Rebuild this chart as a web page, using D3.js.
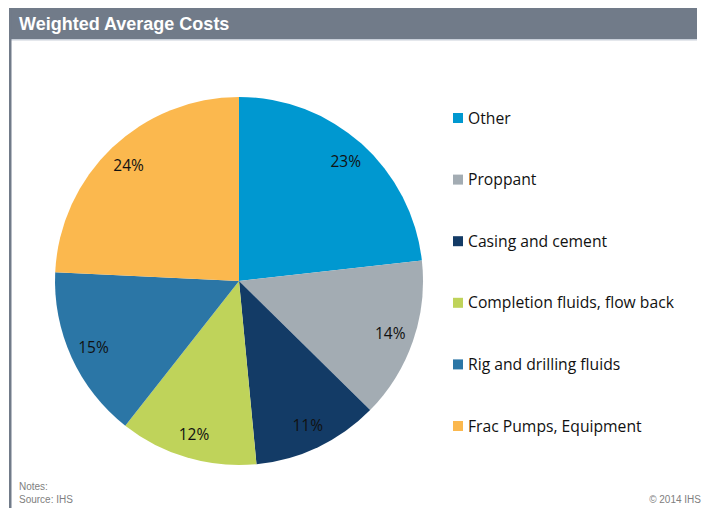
<!DOCTYPE html>
<html>
<head>
<meta charset="utf-8">
<script src="https://cdn.jsdelivr.net/npm/d3@7"></script>
<style>
  body { margin: 0; background: #fff; }
  svg { display: block; }
</style>
</head>
<body>
<svg id="chart"></svg>
<script>
const width = 704, height = 508;

// Data
const categories = ["Other", "Proppant", "Casing and cement", "Completion fluids, flow back", "Rig and drilling fluids", "Frac Pumps, Equipment"];
const shares = [23, 14, 11, 12, 15, 24];
const colors = ["#0098d0", "#a3acb3", "#133b66", "#bfd35a", "#2b76a6", "#fbb84e"];

const svg = d3.select("#chart")
    .attr("width", width)
    .attr("height", height);

// Frame: title bar and left border
svg.append("rect")
    .attr("x", 9).attr("y", 8)
    .attr("width", 688).attr("height", 31)
    .attr("fill", "#717b89");
svg.append("rect")
    .attr("x", 9).attr("y", 39)
    .attr("width", 688).attr("height", 1.5)
    .attr("fill", "#c9d0da");
svg.append("rect")
    .attr("x", 9).attr("y", 8)
    .attr("width", 2.5).attr("height", height - 8)
    .attr("fill", "#717b89");

svg.append("text")
    .attr("x", 19).attr("y", 29.5)
    .attr("font-family", "Liberation Sans, Arial, sans-serif")
    .attr("font-weight", "bold")
    .attr("font-size", 18)
    .attr("fill", "#fff")
    .text("Weighted Average Costs");

// Pie
const cx = 239, cy = 281, radius = 184;
const color = d3.scaleOrdinal().domain(categories).range(colors);

const pie = d3.pie().sort(null).value(d => d.value);
const arcs = pie(categories.map((c, i) => ({ key: c, value: shares[i] })));
const arc = d3.arc().innerRadius(0).outerRadius(radius);
const labelArc = d3.arc().innerRadius(160).outerRadius(160);

const g = svg.append("g").attr("transform", `translate(${cx},${cy})`);

g.selectAll("path")
    .data(arcs)
    .enter().append("path")
    .attr("d", arc)
    .attr("fill", d => color(d.data.key));

g.selectAll("text")
    .data(arcs)
    .enter().append("text")
    .attr("transform", d => `translate(${labelArc.centroid(d)})`)
    .attr("text-anchor", "middle")
    .attr("dy", "0.35em")
    .attr("font-family", "Open Sans, sans-serif")
    .attr("font-size", 15.5)
    .attr("fill", "#111")
    .text(d => d.data.value + "%");

// Legend
const legendY = d3.scalePoint()
    .domain(categories)
    .range([118, 426]);

const legend = svg.selectAll(".legend")
    .data(categories)
    .enter().append("g")
    .attr("class", "legend")
    .attr("transform", d => `translate(453,${legendY(d)})`);

legend.append("rect")
    .attr("x", 0).attr("y", -5)
    .attr("width", 10).attr("height", 10)
    .attr("fill", d => color(d));

legend.append("text")
    .attr("x", 15)
    .attr("dy", "0.35em")
    .attr("font-family", "Open Sans, sans-serif")
    .attr("font-size", 15.7)
    .attr("fill", "#111")
    .text(d => d);

// Footer
const footer = svg.append("g")
    .attr("font-family", "Liberation Sans, Arial, sans-serif")
    .attr("font-size", 10)
    .attr("fill", "#808080");
footer.append("text").attr("x", 19).attr("y", 490).text("Notes:");
footer.append("text").attr("x", 19).attr("y", 503).text("Source: IHS");
footer.append("text").attr("x", 701).attr("y", 503).attr("text-anchor", "end").text("\u00a9 2014 IHS");
</script>
</body>
</html>
